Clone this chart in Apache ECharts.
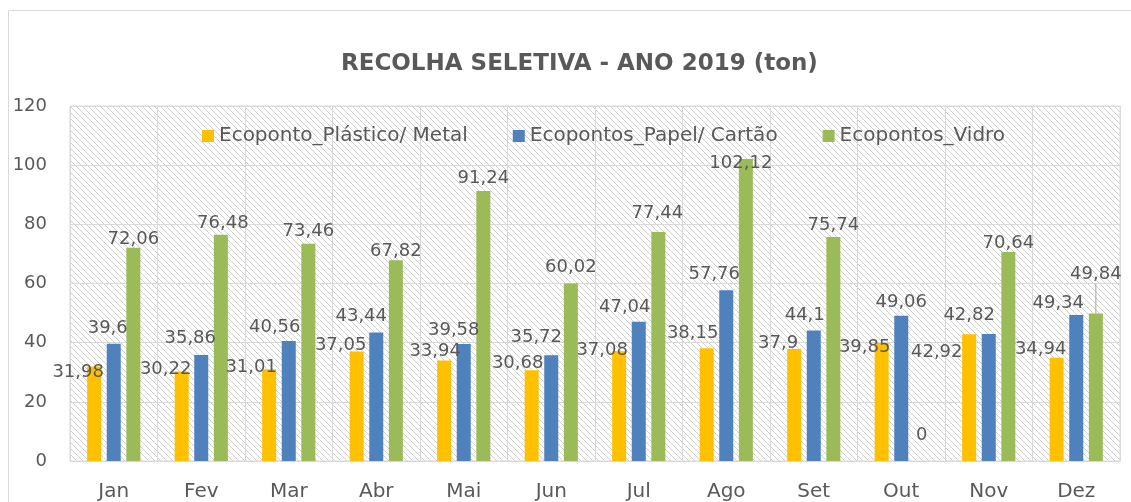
<!DOCTYPE html>
<html>
<head>
<meta charset="utf-8">
<title>Recolha seletiva 2019</title>
<script src="https://cdn.jsdelivr.net/npm/echarts@6/dist/echarts.min.js"></script>
<style>
html, body { margin: 0; padding: 0; background: #fff; }
#grafico { width: 1131px; height: 502px; }
</style>
</head>
<body>
<div id="grafico"></div>
<script>
// dados (ton)
var meses = ['Jan', 'Fev', 'Mar', 'Abr', 'Mai', 'Jun', 'Jul', 'Ago', 'Set', 'Out', 'Nov', 'Dez'];
var plasticoMetal = [31.98, 30.22, 31.01, 37.05, 33.94, 30.68, 37.08, 38.15, 37.9, 39.85, 42.82, 34.94];
var papelCartao = [39.6, 35.86, 40.56, 43.44, 39.58, 35.72, 47.04, 57.76, 44.1, 49.06, 42.92, 49.34];
var vidro = [72.06, 76.48, 73.46, 67.82, 91.24, 60.02, 77.44, 102.12, 75.74, 0, 70.64, 49.84];
var nomesSeries = ['Ecoponto_Plástico/ Metal', 'Ecopontos_Papel/ Cartão', 'Ecopontos_Vidro'];
var yMin = 0, yMax = 120, yPasso = 20;

// deslocamento dos rótulos (px) em relação ao topo da barra, como no Excel
var ajustePlastico = [[-16, 6], [-16, -2], [-18, -2], [-16, -6], [-9, -9], [-14, -7], [-17, -1], [-14, -15], [-16, -6], [-17, 4], [0, -19], [-16, -8]];
var ajustePapel = [[-6, -16], [-11, -17], [-14, -14], [-15, -16], [-10, -14], [-15, -18], [-14, -15], [-12, -16], [-9, -15], [0, -14], [-52, 18], [-18, -12]];
var ajusteVidro = [[0, -8], [2, -11], [0, -12], [0, -9], [0, -13], [0, -16], [-1, -19], [-5, 4], [0, -12], [1, -26], [0, -9], [0, -39]];
var mesesComGuia = ['Dez'];

var cinza = '#595959';
var fonte = 'DejaVu Sans';

// fundo tracejado da área do gráfico
var passo = 6;
var tile = document.createElement('canvas');
tile.width = passo; tile.height = passo;
var ctx = tile.getContext('2d');
ctx.fillStyle = '#ffffff';
ctx.fillRect(0, 0, passo, passo);
ctx.fillStyle = '#cfcfcf';
for (var i = 0; i < passo; i++) {
    ctx.fillRect(i, i, 1, 1);
}

function virgula(p) {
    return String(p.value).replace('.', ',');
}

function serieBarras(nome, valores, cor, ajuste) {
    return {
        name: nome,
        type: 'bar',
        barWidth: 14,
        barGap: '40%',
        itemStyle: { color: cor },
        data: valores.map(function (v, i) {
            if (mesesComGuia.indexOf(meses[i]) >= 0 && ajuste === ajusteVidro) {
                return { value: v, labelLine: { show: true, lineStyle: { color: '#a6a6a6', width: 1 } } };
            }
            return v;
        }),
        label: {
            show: true,
            position: ['50%', 0],
            align: 'center',
            verticalAlign: 'middle',
            formatter: virgula,
            color: cinza,
            fontFamily: fonte,
            fontSize: 18
        },
        labelLayout: function (p) {
            return { dx: ajuste[p.dataIndex][0], dy: ajuste[p.dataIndex][1] };
        }
    };
}

var chart = echarts.init(document.getElementById('grafico'));

var option = {
    backgroundColor: '#ffffff',
    animation: false,
    title: {
        text: 'RECOLHA SELETIVA - ANO 2019 (ton)',
        left: 336,
        top: 48,
        textStyle: { color: cinza, fontFamily: fonte, fontWeight: 'bold', fontSize: 23 }
    },
    legend: {
        data: nomesSeries,
        left: 197,
        top: 121,
        itemWidth: 12,
        itemHeight: 12,
        itemGap: 45,
        icon: 'rect',
        textStyle: { color: cinza, fontFamily: fonte, fontSize: 20 }
    },
    graphic: [{
        type: 'rect',
        shape: { x: 8.5, y: 10.5, width: 1200, height: 600 },
        style: { fill: 'none', stroke: '#d9d9d9', lineWidth: 1 },
        silent: true
    }],
    grid: {
        left: 70,
        top: 106,
        right: 11,
        bottom: 41,
        show: true,
        borderColor: '#d9d9d9',
        borderWidth: 1,
        backgroundColor: { image: tile, repeat: 'repeat' }
    },
    xAxis: {
        type: 'category',
        data: meses,
        axisTick: { show: false },
        axisLine: { lineStyle: { color: '#d9d9d9' } },
        splitLine: { show: true, lineStyle: { color: '#d9d9d9' } },
        axisLabel: { color: cinza, fontFamily: fonte, fontSize: 20, margin: 21 }
    },
    yAxis: {
        type: 'value',
        min: yMin,
        max: yMax,
        interval: yPasso,
        axisLine: { show: false },
        axisTick: { show: false },
        splitLine: { lineStyle: { color: '#d9d9d9' } },
        axisLabel: { color: cinza, fontFamily: fonte, fontSize: 18, margin: 23 }
    },
    series: [
        serieBarras(nomesSeries[0], plasticoMetal, '#FFC000', ajustePlastico),
        serieBarras(nomesSeries[1], papelCartao, '#4F81BD', ajustePapel),
        serieBarras(nomesSeries[2], vidro, '#9BBB59', ajusteVidro)
    ]
};

chart.setOption(option);
</script>
</body>
</html>
